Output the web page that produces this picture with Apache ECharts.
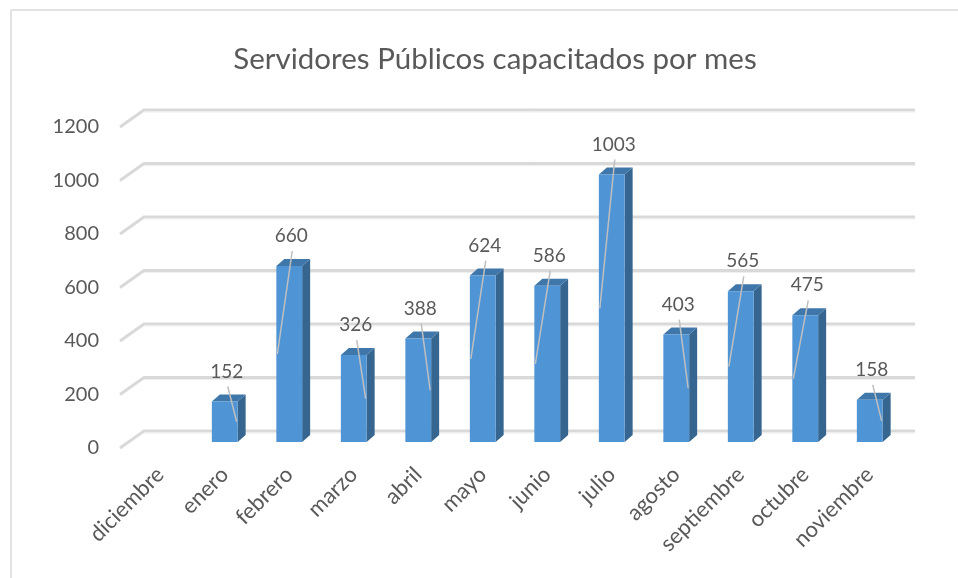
<!DOCTYPE html>
<html>
<head>
<meta charset="utf-8">
<script src="https://cdn.jsdelivr.net/npm/echarts@6/dist/echarts.min.js"></script>
<style>
  html, body { margin: 0; padding: 0; background: #fff; }
  #chart { width: 958px; height: 578px; }
</style>
</head>
<body>
<div id="chart"></div>
<script>
const MONTHS = ['diciembre', 'enero', 'febrero', 'marzo', 'abril', 'mayo', 'junio', 'julio', 'agosto', 'septiembre', 'octubre', 'noviembre'];
const COUNTS = [null, 152, 660, 326, 388, 624, 586, 1003, 403, 565, 475, 158];
const Y_TICKS = [0, 200, 400, 600, 800, 1000, 1200];

const FONT = 'Lato';
const TEXT_COLOR = '#595959';
const FRONT = '#4f94d4', SIDE = '#36668f', TOP = '#3f77aa';
const DX = 8, DY = 7;          // bar depth
const SLANT_X = 24, SLANT_Y = 17;   // floor / wall depth

const chart = echarts.init(document.getElementById('chart'));

function renderBar(params, api) {
    const v = api.value(1);
    if (v == null || isNaN(v)) return null;
    const top = api.coord([api.value(0), v]);
    const base = api.coord([api.value(0), 0]);
    const w = api.size([1, 0])[0] * 0.4;
    const l = top[0] - w / 2, r = top[0] + w / 2;
    const t = top[1], b = base[1];
    const mid = b - (b - t) / 2;
    const lineEndX = v > 420 ? l + 1 : r - 1;
    return {
        type: 'group',
        children: [
            { type: 'polygon', shape: { points: [[r, t], [r + DX, t - DY], [r + DX, b - DY], [r, b]] }, style: { fill: SIDE } },
            { type: 'polygon', shape: { points: [[l, t], [l + DX, t - DY], [r + DX, t - DY], [r, t]] }, style: { fill: TOP } },
            { type: 'rect', shape: { x: l, y: t, width: w, height: b - t }, style: { fill: FRONT } },
            { type: 'line', shape: { x1: top[0] + 3, y1: t - 15, x2: lineEndX, y2: mid }, style: { stroke: '#bfbfbf', lineWidth: 1.5 } },
            { type: 'text', x: top[0] + 2, y: t - 30, style: { text: String(v), fill: TEXT_COLOR, font: '19px ' + FONT, align: 'center', verticalAlign: 'middle' } }
        ]
    };
}

function renderGridLine(params, api) {
    const p = api.coord([0, api.value(0)]);
    const rect = params.coordSys;
    const x0 = rect.x, x1 = rect.x + rect.width;
    return {
        type: 'group',
        children: [
            { type: 'polyline', shape: { points: [[x0 - SLANT_X, p[1] + SLANT_Y], [x0, p[1]], [x1, p[1]]] }, style: { stroke: '#d9d9d9', lineWidth: 3, fill: null } },
            { type: 'line', shape: { x1: x0, y1: p[1] + 2, x2: x1, y2: p[1] + 2 }, style: { stroke: '#efefef', lineWidth: 1 } }
        ]
    };
}

chart.setOption({
    backgroundColor: '#fff',
    animation: false,
    title: {
        text: 'Servidores Públicos capacitados por mes',
        left: 490, top: 39, textAlign: 'center',
        textStyle: { fontFamily: FONT, fontSize: 29.5, fontWeight: 'normal', color: TEXT_COLOR }
    },
    graphic: [
        { type: 'line', silent: true, z: -10, shape: { x1: 11, y1: 10, x2: 958, y2: 10 }, style: { stroke: '#d9d9d9', lineWidth: 1.5 } },
        { type: 'line', silent: true, z: -10, shape: { x1: 11, y1: 10, x2: 11, y2: 578 }, style: { stroke: '#d9d9d9', lineWidth: 1.5 } }
    ],
    grid: [
        { left: 128, right: 56, top: 122, bottom: 136 },   // bar front plane
        { left: 144, right: 43, top: 110, bottom: 147 },   // back wall
        { left: 120, right: 56, top: 127, bottom: 130 }    // floor front edge (labels)
    ],
    xAxis: [
        {
            gridIndex: 0, type: 'category', data: MONTHS,
            axisLine: { show: false }, axisTick: { show: false },
            axisLabel: { rotate: 45, margin: 29, fontFamily: FONT, fontSize: 22, color: TEXT_COLOR, interval: 0 }
        },
        { gridIndex: 1, type: 'value', min: 0, max: 1, show: false },
        { gridIndex: 2, type: 'value', min: 0, max: 1, show: false }
    ],
    yAxis: [
        { gridIndex: 0, type: 'value', min: 0, max: 1200, interval: 200, show: false },
        { gridIndex: 1, type: 'value', min: 0, max: 1200, interval: 200, show: false },
        {
            gridIndex: 2, type: 'value', min: 0, max: 1200, interval: 200,
            axisLine: { show: false }, axisTick: { show: false }, splitLine: { show: false },
            axisLabel: { margin: 21, fontFamily: FONT, fontSize: 20, color: TEXT_COLOR, formatter: v => String(v) }
        }
    ],
    series: [
        {
            type: 'custom', xAxisIndex: 1, yAxisIndex: 1, z: 1,
            data: Y_TICKS.map(v => [v]),
            encode: { y: 0 },
            renderItem: renderGridLine
        },
        {
            type: 'custom', xAxisIndex: 0, yAxisIndex: 0, z: 2,
            data: COUNTS.map((v, i) => [i, v]),
            encode: { x: 0, y: 1 },
            renderItem: renderBar
        }
    ]
});
</script>
</body>
</html>
